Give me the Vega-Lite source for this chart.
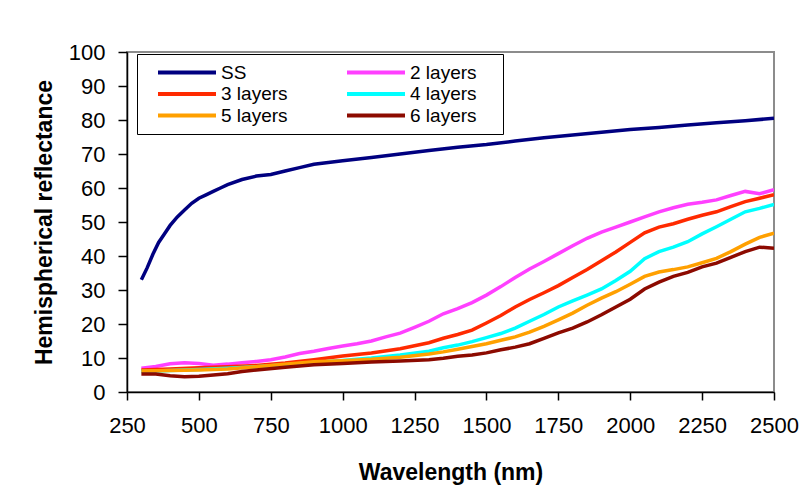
{
  "$schema": "https://vega.github.io/schema/vega-lite/v6.json",
  "autosize": {"type": "none"},
  "padding": {"left": 127, "top": 52, "right": 31, "bottom": 94},
  "width": 647,
  "height": 340,
  "background": "white",
  "config": {
    "font": "Liberation Sans",
    "view": {"stroke": "#8c8c8c", "strokeWidth": 2},
    "axis": {"grid": false, "domainColor": "black", "tickColor": "black", "labelColor": "black", "titleColor": "black", "domainWidth": 1.5, "tickWidth": 1.5, "labelFont": "Liberation Sans", "titleFont": "Liberation Sans", "labelFontSize": 22, "titleFontSize": 23, "titleFontWeight": "bold"}
  },
  "data": {"values": [
    {"series":"SS","wavelength":300,"reflectance":33},
    {"series":"SS","wavelength":320,"reflectance":36.5},
    {"series":"SS","wavelength":340,"reflectance":40.5},
    {"series":"SS","wavelength":360,"reflectance":44},
    {"series":"SS","wavelength":380,"reflectance":46.5},
    {"series":"SS","wavelength":400,"reflectance":49},
    {"series":"SS","wavelength":425,"reflectance":51.5},
    {"series":"SS","wavelength":450,"reflectance":53.5},
    {"series":"SS","wavelength":475,"reflectance":55.5},
    {"series":"SS","wavelength":500,"reflectance":57},
    {"series":"SS","wavelength":525,"reflectance":58},
    {"series":"SS","wavelength":550,"reflectance":59},
    {"series":"SS","wavelength":575,"reflectance":60},
    {"series":"SS","wavelength":600,"reflectance":61},
    {"series":"SS","wavelength":650,"reflectance":62.5},
    {"series":"SS","wavelength":700,"reflectance":63.5},
    {"series":"SS","wavelength":750,"reflectance":64},
    {"series":"SS","wavelength":800,"reflectance":65},
    {"series":"SS","wavelength":850,"reflectance":66},
    {"series":"SS","wavelength":900,"reflectance":67},
    {"series":"SS","wavelength":950,"reflectance":67.5},
    {"series":"SS","wavelength":1000,"reflectance":68},
    {"series":"SS","wavelength":1100,"reflectance":69},
    {"series":"SS","wavelength":1200,"reflectance":70},
    {"series":"SS","wavelength":1300,"reflectance":71},
    {"series":"SS","wavelength":1400,"reflectance":72},
    {"series":"SS","wavelength":1500,"reflectance":72.8},
    {"series":"SS","wavelength":1600,"reflectance":73.8},
    {"series":"SS","wavelength":1700,"reflectance":74.8},
    {"series":"SS","wavelength":1800,"reflectance":75.6},
    {"series":"SS","wavelength":1900,"reflectance":76.4},
    {"series":"SS","wavelength":2000,"reflectance":77.2},
    {"series":"SS","wavelength":2100,"reflectance":77.8},
    {"series":"SS","wavelength":2200,"reflectance":78.5},
    {"series":"SS","wavelength":2300,"reflectance":79.2},
    {"series":"SS","wavelength":2400,"reflectance":79.8},
    {"series":"SS","wavelength":2500,"reflectance":80.5},

    {"series":"2 layers","wavelength":300,"reflectance":7},
    {"series":"2 layers","wavelength":350,"reflectance":7.5},
    {"series":"2 layers","wavelength":400,"reflectance":8.3},
    {"series":"2 layers","wavelength":450,"reflectance":8.6},
    {"series":"2 layers","wavelength":500,"reflectance":8.4},
    {"series":"2 layers","wavelength":550,"reflectance":7.9},
    {"series":"2 layers","wavelength":600,"reflectance":8.2},
    {"series":"2 layers","wavelength":650,"reflectance":8.6},
    {"series":"2 layers","wavelength":700,"reflectance":9},
    {"series":"2 layers","wavelength":750,"reflectance":9.5},
    {"series":"2 layers","wavelength":800,"reflectance":10.3},
    {"series":"2 layers","wavelength":850,"reflectance":11.3},
    {"series":"2 layers","wavelength":900,"reflectance":12},
    {"series":"2 layers","wavelength":950,"reflectance":12.8},
    {"series":"2 layers","wavelength":1000,"reflectance":13.5},
    {"series":"2 layers","wavelength":1050,"reflectance":14.2},
    {"series":"2 layers","wavelength":1100,"reflectance":15},
    {"series":"2 layers","wavelength":1150,"reflectance":16.2},
    {"series":"2 layers","wavelength":1200,"reflectance":17.3},
    {"series":"2 layers","wavelength":1250,"reflectance":19},
    {"series":"2 layers","wavelength":1300,"reflectance":20.8},
    {"series":"2 layers","wavelength":1350,"reflectance":23},
    {"series":"2 layers","wavelength":1400,"reflectance":24.5},
    {"series":"2 layers","wavelength":1450,"reflectance":26.3},
    {"series":"2 layers","wavelength":1500,"reflectance":28.5},
    {"series":"2 layers","wavelength":1550,"reflectance":31},
    {"series":"2 layers","wavelength":1600,"reflectance":33.7},
    {"series":"2 layers","wavelength":1650,"reflectance":36.2},
    {"series":"2 layers","wavelength":1700,"reflectance":38.4},
    {"series":"2 layers","wavelength":1750,"reflectance":40.7},
    {"series":"2 layers","wavelength":1800,"reflectance":43},
    {"series":"2 layers","wavelength":1850,"reflectance":45.2},
    {"series":"2 layers","wavelength":1900,"reflectance":47},
    {"series":"2 layers","wavelength":1950,"reflectance":48.5},
    {"series":"2 layers","wavelength":2000,"reflectance":50},
    {"series":"2 layers","wavelength":2050,"reflectance":51.5},
    {"series":"2 layers","wavelength":2100,"reflectance":53},
    {"series":"2 layers","wavelength":2150,"reflectance":54.2},
    {"series":"2 layers","wavelength":2200,"reflectance":55.2},
    {"series":"2 layers","wavelength":2250,"reflectance":55.8},
    {"series":"2 layers","wavelength":2300,"reflectance":56.5},
    {"series":"2 layers","wavelength":2350,"reflectance":57.8},
    {"series":"2 layers","wavelength":2400,"reflectance":59},
    {"series":"2 layers","wavelength":2450,"reflectance":58.3},
    {"series":"2 layers","wavelength":2500,"reflectance":59.5},

    {"series":"3 layers","wavelength":300,"reflectance":6.5},
    {"series":"3 layers","wavelength":400,"reflectance":6.8},
    {"series":"3 layers","wavelength":500,"reflectance":7.1},
    {"series":"3 layers","wavelength":600,"reflectance":7.4},
    {"series":"3 layers","wavelength":700,"reflectance":7.8},
    {"series":"3 layers","wavelength":800,"reflectance":8.5},
    {"series":"3 layers","wavelength":900,"reflectance":9.5},
    {"series":"3 layers","wavelength":1000,"reflectance":10.6},
    {"series":"3 layers","wavelength":1100,"reflectance":11.5},
    {"series":"3 layers","wavelength":1200,"reflectance":12.7},
    {"series":"3 layers","wavelength":1300,"reflectance":14.5},
    {"series":"3 layers","wavelength":1350,"reflectance":15.8},
    {"series":"3 layers","wavelength":1400,"reflectance":16.9},
    {"series":"3 layers","wavelength":1450,"reflectance":18.2},
    {"series":"3 layers","wavelength":1500,"reflectance":20.3},
    {"series":"3 layers","wavelength":1550,"reflectance":22.5},
    {"series":"3 layers","wavelength":1600,"reflectance":25},
    {"series":"3 layers","wavelength":1650,"reflectance":27.2},
    {"series":"3 layers","wavelength":1700,"reflectance":29.2},
    {"series":"3 layers","wavelength":1750,"reflectance":31.3},
    {"series":"3 layers","wavelength":1800,"reflectance":33.7},
    {"series":"3 layers","wavelength":1850,"reflectance":36},
    {"series":"3 layers","wavelength":1900,"reflectance":38.6},
    {"series":"3 layers","wavelength":1950,"reflectance":41.2},
    {"series":"3 layers","wavelength":2000,"reflectance":44},
    {"series":"3 layers","wavelength":2050,"reflectance":46.8},
    {"series":"3 layers","wavelength":2100,"reflectance":48.5},
    {"series":"3 layers","wavelength":2150,"reflectance":49.5},
    {"series":"3 layers","wavelength":2200,"reflectance":50.8},
    {"series":"3 layers","wavelength":2250,"reflectance":52},
    {"series":"3 layers","wavelength":2300,"reflectance":53},
    {"series":"3 layers","wavelength":2350,"reflectance":54.5},
    {"series":"3 layers","wavelength":2400,"reflectance":56},
    {"series":"3 layers","wavelength":2450,"reflectance":57},
    {"series":"3 layers","wavelength":2500,"reflectance":58},

    {"series":"4 layers","wavelength":300,"reflectance":6},
    {"series":"4 layers","wavelength":400,"reflectance":6.3},
    {"series":"4 layers","wavelength":500,"reflectance":6.6},
    {"series":"4 layers","wavelength":600,"reflectance":7},
    {"series":"4 layers","wavelength":700,"reflectance":7.4},
    {"series":"4 layers","wavelength":800,"reflectance":8},
    {"series":"4 layers","wavelength":900,"reflectance":8.7},
    {"series":"4 layers","wavelength":1000,"reflectance":9.3},
    {"series":"4 layers","wavelength":1100,"reflectance":10},
    {"series":"4 layers","wavelength":1200,"reflectance":10.9},
    {"series":"4 layers","wavelength":1300,"reflectance":12},
    {"series":"4 layers","wavelength":1350,"reflectance":13},
    {"series":"4 layers","wavelength":1400,"reflectance":13.8},
    {"series":"4 layers","wavelength":1450,"reflectance":14.8},
    {"series":"4 layers","wavelength":1500,"reflectance":16},
    {"series":"4 layers","wavelength":1550,"reflectance":17.2},
    {"series":"4 layers","wavelength":1600,"reflectance":18.8},
    {"series":"4 layers","wavelength":1650,"reflectance":20.8},
    {"series":"4 layers","wavelength":1700,"reflectance":22.8},
    {"series":"4 layers","wavelength":1750,"reflectance":25},
    {"series":"4 layers","wavelength":1800,"reflectance":26.8},
    {"series":"4 layers","wavelength":1850,"reflectance":28.5},
    {"series":"4 layers","wavelength":1900,"reflectance":30.3},
    {"series":"4 layers","wavelength":1950,"reflectance":32.8},
    {"series":"4 layers","wavelength":2000,"reflectance":35.5},
    {"series":"4 layers","wavelength":2050,"reflectance":39.2},
    {"series":"4 layers","wavelength":2100,"reflectance":41.3},
    {"series":"4 layers","wavelength":2150,"reflectance":42.6},
    {"series":"4 layers","wavelength":2200,"reflectance":44.2},
    {"series":"4 layers","wavelength":2250,"reflectance":46.5},
    {"series":"4 layers","wavelength":2300,"reflectance":48.6},
    {"series":"4 layers","wavelength":2350,"reflectance":50.8},
    {"series":"4 layers","wavelength":2400,"reflectance":53},
    {"series":"4 layers","wavelength":2450,"reflectance":54},
    {"series":"4 layers","wavelength":2500,"reflectance":55.2},

    {"series":"5 layers","wavelength":300,"reflectance":6.2},
    {"series":"5 layers","wavelength":400,"reflectance":6.3},
    {"series":"5 layers","wavelength":500,"reflectance":6.5},
    {"series":"5 layers","wavelength":600,"reflectance":6.8},
    {"series":"5 layers","wavelength":700,"reflectance":7.4},
    {"series":"5 layers","wavelength":800,"reflectance":8.2},
    {"series":"5 layers","wavelength":900,"reflectance":8.9},
    {"series":"5 layers","wavelength":1000,"reflectance":9.2},
    {"series":"5 layers","wavelength":1100,"reflectance":9.6},
    {"series":"5 layers","wavelength":1200,"reflectance":10.2},
    {"series":"5 layers","wavelength":1300,"reflectance":11.2},
    {"series":"5 layers","wavelength":1350,"reflectance":11.8},
    {"series":"5 layers","wavelength":1400,"reflectance":12.6},
    {"series":"5 layers","wavelength":1450,"reflectance":13.4},
    {"series":"5 layers","wavelength":1500,"reflectance":14.2},
    {"series":"5 layers","wavelength":1550,"reflectance":15.2},
    {"series":"5 layers","wavelength":1600,"reflectance":16.2},
    {"series":"5 layers","wavelength":1650,"reflectance":17.6},
    {"series":"5 layers","wavelength":1700,"reflectance":19.3},
    {"series":"5 layers","wavelength":1750,"reflectance":21.2},
    {"series":"5 layers","wavelength":1800,"reflectance":23.2},
    {"series":"5 layers","wavelength":1850,"reflectance":25.5},
    {"series":"5 layers","wavelength":1900,"reflectance":27.6},
    {"series":"5 layers","wavelength":1950,"reflectance":29.5},
    {"series":"5 layers","wavelength":2000,"reflectance":31.7},
    {"series":"5 layers","wavelength":2050,"reflectance":34},
    {"series":"5 layers","wavelength":2100,"reflectance":35.3},
    {"series":"5 layers","wavelength":2150,"reflectance":36},
    {"series":"5 layers","wavelength":2200,"reflectance":36.8},
    {"series":"5 layers","wavelength":2250,"reflectance":38},
    {"series":"5 layers","wavelength":2300,"reflectance":39.3},
    {"series":"5 layers","wavelength":2350,"reflectance":41.3},
    {"series":"5 layers","wavelength":2400,"reflectance":43.5},
    {"series":"5 layers","wavelength":2450,"reflectance":45.5},
    {"series":"5 layers","wavelength":2500,"reflectance":46.7},

    {"series":"6 layers","wavelength":300,"reflectance":5.3},
    {"series":"6 layers","wavelength":350,"reflectance":5.3},
    {"series":"6 layers","wavelength":400,"reflectance":4.8},
    {"series":"6 layers","wavelength":450,"reflectance":4.5},
    {"series":"6 layers","wavelength":500,"reflectance":4.6},
    {"series":"6 layers","wavelength":550,"reflectance":5},
    {"series":"6 layers","wavelength":600,"reflectance":5.4},
    {"series":"6 layers","wavelength":650,"reflectance":6},
    {"series":"6 layers","wavelength":700,"reflectance":6.5},
    {"series":"6 layers","wavelength":800,"reflectance":7.3},
    {"series":"6 layers","wavelength":900,"reflectance":8},
    {"series":"6 layers","wavelength":1000,"reflectance":8.4},
    {"series":"6 layers","wavelength":1100,"reflectance":8.8},
    {"series":"6 layers","wavelength":1200,"reflectance":9.1},
    {"series":"6 layers","wavelength":1300,"reflectance":9.5},
    {"series":"6 layers","wavelength":1350,"reflectance":9.9},
    {"series":"6 layers","wavelength":1400,"reflectance":10.5},
    {"series":"6 layers","wavelength":1450,"reflectance":10.9},
    {"series":"6 layers","wavelength":1500,"reflectance":11.5},
    {"series":"6 layers","wavelength":1550,"reflectance":12.4},
    {"series":"6 layers","wavelength":1600,"reflectance":13.2},
    {"series":"6 layers","wavelength":1650,"reflectance":14.2},
    {"series":"6 layers","wavelength":1700,"reflectance":15.8},
    {"series":"6 layers","wavelength":1750,"reflectance":17.4},
    {"series":"6 layers","wavelength":1800,"reflectance":18.8},
    {"series":"6 layers","wavelength":1850,"reflectance":20.6},
    {"series":"6 layers","wavelength":1900,"reflectance":22.7},
    {"series":"6 layers","wavelength":1950,"reflectance":25},
    {"series":"6 layers","wavelength":2000,"reflectance":27.3},
    {"series":"6 layers","wavelength":2050,"reflectance":30.3},
    {"series":"6 layers","wavelength":2100,"reflectance":32.3},
    {"series":"6 layers","wavelength":2150,"reflectance":34},
    {"series":"6 layers","wavelength":2200,"reflectance":35.2},
    {"series":"6 layers","wavelength":2250,"reflectance":36.8},
    {"series":"6 layers","wavelength":2300,"reflectance":37.9},
    {"series":"6 layers","wavelength":2350,"reflectance":39.6},
    {"series":"6 layers","wavelength":2400,"reflectance":41.3},
    {"series":"6 layers","wavelength":2450,"reflectance":42.6},
    {"series":"6 layers","wavelength":2500,"reflectance":42.3}
  ]},
  "mark": {"type": "line", "strokeWidth": 3.5, "clip": true},
  "encoding": {
    "x": {
      "field": "wavelength", "type": "quantitative",
      "scale": {"domain": [250, 2500], "nice": false, "zero": false},
      "axis": {"title": "Wavelength (nm)", "format": "d", "values": [250, 500, 750, 1000, 1250, 1500, 1750, 2000, 2250, 2500], "tickSize": 8, "labelPadding": 15, "titlePadding": 25, "labelFlush": false, "labelOverlap": false}
    },
    "y": {
      "field": "reflectance", "type": "quantitative",
      "scale": {"domain": [0, 100], "nice": false},
      "axis": {"title": "Hemispherical reflectance", "format": "d", "values": [0, 10, 20, 30, 40, 50, 60, 70, 80, 90, 100], "tickSize": 9, "labelPadding": 13, "titlePadding": 12, "labelOverlap": false}
    },
    "color": {
      "field": "series", "type": "nominal",
      "scale": {"domain": ["SS", "2 layers", "3 layers", "4 layers", "5 layers", "6 layers"], "range": ["#000080", "#FF40FF", "#FF2A00", "#00FFFF", "#FFA000", "#8C0A00"]},
      "legend": {
        "orient": "none", "legendX": 10, "legendY": 2, "direction": "horizontal", "columns": 2,
        "title": "\u00a0", "titleOrient": "right", "titlePadding": 18, "titleFontSize": 10,
        "symbolType": "stroke", "symbolSize": 3364, "symbolStrokeWidth": 4, "clipHeight": 21,
        "rowPadding": 0.5, "columnPadding": 46, "symbolOffset": 11, "labelOffset": 3,
        "labelFontSize": 19, "labelFont": "Liberation Sans", "labelColor": "black",
        "padding": 8, "strokeColor": "black", "fillColor": "white"
      }
    }
  }
}
